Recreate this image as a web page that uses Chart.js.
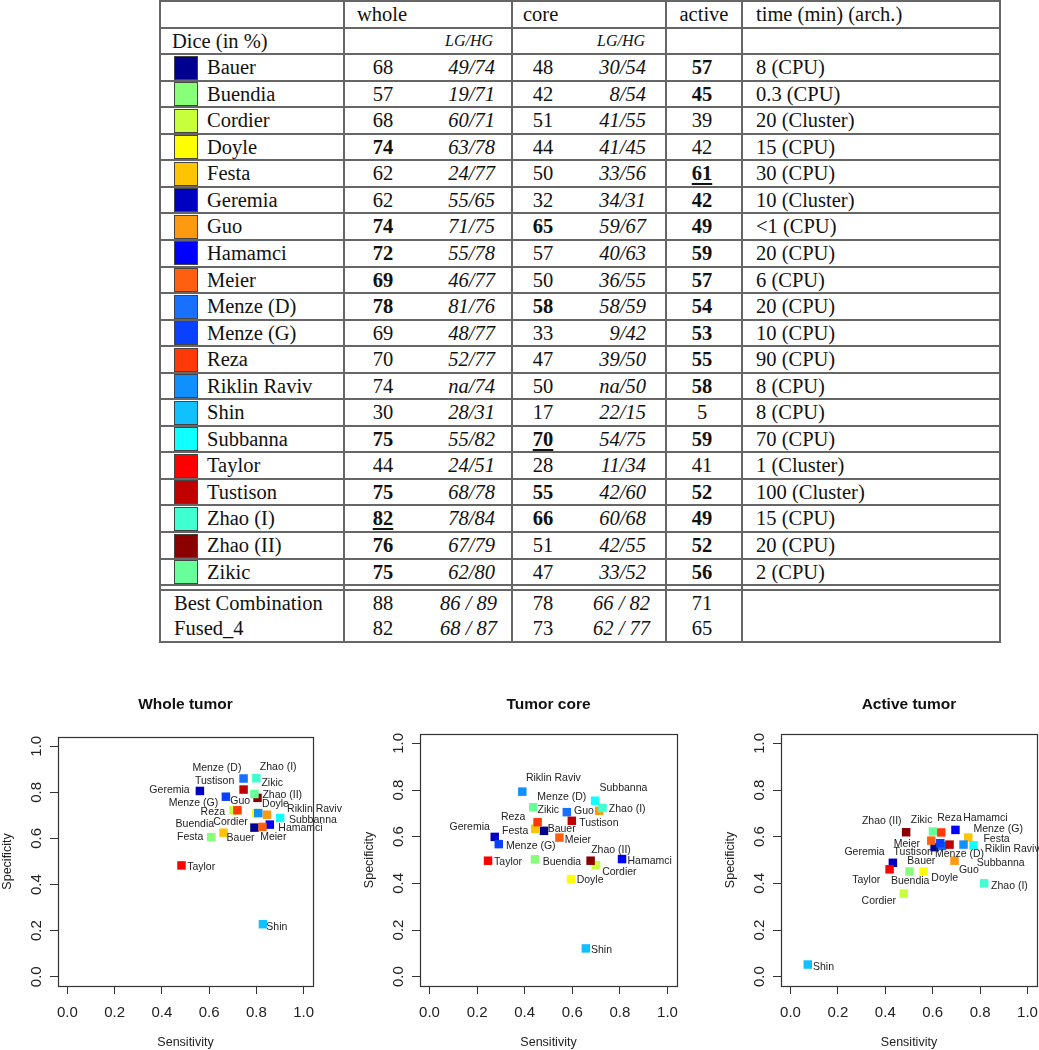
<!DOCTYPE html>
<html><head><meta charset="utf-8">
<script src="https://cdn.jsdelivr.net/npm/chart.js@4/dist/chart.umd.min.js"></script>
<style>
html,body{margin:0;padding:0;background:#fff;width:1039px;height:1050px;overflow:hidden;position:relative;}
#tbl{position:absolute;left:0;top:0;width:1039px;height:660px;font-family:"Liberation Serif","Times New Roman",serif;font-size:20.5px;color:#111;}
.t{position:absolute;white-space:nowrap;}
.ln{position:absolute;background:#666;}
.sw{position:absolute;box-sizing:border-box;border:1px solid #444;}
canvas{position:absolute;}
</style></head><body>
<div id="tbl"></div>
<canvas id="c1"></canvas><canvas id="c2"></canvas><canvas id="c3"></canvas>
<script>
// ---------------- data ----------------
const teams = ['Bauer','Buendia','Cordier','Doyle','Festa','Geremia','Guo','Hamamci','Meier','Menze (D)','Menze (G)','Reza','Riklin Raviv','Shin','Subbanna','Taylor','Tustison','Zhao (I)','Zhao (II)','Zikic'];
const teamColors = ['#00008F','#88FF78','#C8FF3C','#FFFF00','#FFC400','#0000C0','#FF9A10','#0000FF','#FF6010','#1870FF','#0A40FF','#FF3A08','#1090FF','#10C0FF','#10FFFF','#FF0000','#C00000','#40FFD0','#8A0000','#66FF99'];

const wholeDice = [68,57,68,74,62,62,74,72,69,78,69,70,74,30,75,44,75,82,76,75];
const wholeLGHG = ['49/74','19/71','60/71','63/78','24/77','55/65','71/75','55/78','46/77','81/76','48/77','52/77','na/74','28/31','55/82','24/51','68/78','78/84','67/79','62/80'];
const wholeMark = [0,0,0,1,0,0,1,1,1,1,0,0,0,0,1,0,1,2,1,1];
const coreDice = [48,42,51,44,50,32,65,57,50,58,33,47,50,17,70,28,55,66,51,47];
const coreLGHG = ['30/54','8/54','41/55','41/45','33/56','34/31','59/67','40/63','36/55','58/59','9/42','39/50','na/50','22/15','54/75','11/34','42/60','60/68','42/55','33/52'];
const coreMark = [0,0,0,0,0,0,1,0,0,1,0,0,0,0,2,0,1,1,0,0];
const activeDice = [57,45,39,42,61,42,49,59,57,54,53,55,58,5,59,41,52,49,52,56];
const activeMark = [1,1,0,0,2,1,1,1,1,1,1,1,1,0,1,0,1,1,1,1];
const runtime = ['8 (CPU)','0.3 (CPU)','20 (Cluster)','15 (CPU)','30 (CPU)','10 (Cluster)','<1 (CPU)','20 (CPU)','6 (CPU)','20 (CPU)','10 (CPU)','90 (CPU)','8 (CPU)','8 (CPU)','70 (CPU)','1 (Cluster)','100 (Cluster)','15 (CPU)','20 (CPU)','2 (CPU)'];

const comboNames = ['Best Combination','Fused_4'];
const comboWhole = [88,82];
const comboWholeLGHG = ['86 / 89','68 / 87'];
const comboCore = [78,73];
const comboCoreLGHG = ['66 / 82','62 / 77'];
const comboActive = [71,65];

const headers = ['whole','core','active','time (min) (arch.)'];
const subHeader = 'Dice (in %)';
const lghgLabel = 'LG/HG';

const chartTitles = ['Whole tumor','Tumor core','Active tumor'];
const xTitle = 'Sensitivity';
const yTitle = 'Specificity';
const tickValues = [0, 0.2, 0.4, 0.6, 0.8, 1.0];

const wholeSens = [0.792,0.609,0.703,0.800,0.661,0.561,0.845,0.857,0.826,0.746,0.671,0.720,0.808,0.828,0.901,0.483,0.746,0.800,0.805,0.792];
const wholeSpec = [0.647,0.606,0.722,0.710,0.625,0.806,0.703,0.660,0.650,0.860,0.781,0.722,0.710,0.228,0.689,0.483,0.812,0.861,0.776,0.793];
const coreSens = [0.481,0.443,0.700,0.595,0.444,0.274,0.713,0.809,0.546,0.577,0.291,0.454,0.390,0.657,0.696,0.246,0.598,0.727,0.677,0.436];
const coreSpec = [0.625,0.503,0.478,0.418,0.634,0.599,0.711,0.504,0.596,0.705,0.568,0.662,0.793,0.121,0.754,0.497,0.668,0.723,0.497,0.726];
const activeSens = [0.608,0.502,0.478,0.561,0.750,0.432,0.692,0.696,0.594,0.640,0.632,0.636,0.730,0.073,0.772,0.418,0.671,0.817,0.488,0.601];
const activeSpec = [0.555,0.451,0.356,0.451,0.596,0.488,0.497,0.629,0.583,0.560,0.572,0.618,0.566,0.052,0.563,0.460,0.566,0.400,0.619,0.622];

// ---------------- label placement (pixel offsets from point) ----------------
const labelOffsets = {
  whole: [[-13.9,10.4],[-16.4,-13],[-2.9,11.4],[19.2,-9.1],[-33.3,4.7],[-30.4,-1.3],[-26.7,-14],[30.7,3.4],[10.8,10.1],[-26.7,-10.6],[-32.4,6.2],[-24.6,1.4],[56.3,-4.4],[13.9,2.4],[32.7,2.5],[19.7,1.7],[-29,-8.9],[21.9,-11],[24.7,-3.2],[17.8,-11]],
  core: [[17.7,-2],[27,3],[23.3,6.7],[19,1],[-20,2.7],[-25,-10],[-15.3,0],[27.6,1.7],[18.4,2.6],[-5,-14.6],[32,2.4],[-24.4,-5.3],[31,-13.3],[15.6,2],[28.3,-12.3],[20,1.6],[27,2.3],[24.7,0.7],[20.4,-10.7],[15,3]],
  active: [[-13.3,14.4],[0.7,9.7],[-25,7.7],[21.3,7],[28.3,1.3],[-28.3,-10.4],[14.3,9.6],[30,-11.7],[-24.4,3.3],[17.3,8.2],[57.9,-14],[8.3,-14.4],[48.7,4.6],[15.7,2.7],[27.3,18],[-23.3,10.7],[-36.3,8],[25.3,2.4],[-24.4,-11.3],[-11.3,-11.7]]
};

// ---------------- table ----------------
const T = document.getElementById('tbl');
const RH = 26.55;
const rowTop = k => 1 + k * RH;
const X = {left:160, whole:344, core:512, active:666, time:742, right:1000};
function txt(s, x, top, h, align, style) {
  const d = document.createElement('div');
  d.className = 't';
  d.textContent = s;
  d.style.top = top + 'px';
  d.style.height = h + 'px';
  d.style.lineHeight = h + 'px';
  if (align === 'center') { d.style.left = (x - 100) + 'px'; d.style.width = '200px'; d.style.textAlign = 'center'; }
  else if (align === 'right') { d.style.left = (x - 200) + 'px'; d.style.width = '200px'; d.style.textAlign = 'right'; }
  else { d.style.left = x + 'px'; }
  if (style) Object.assign(d.style, style);
  T.appendChild(d);
  return d;
}
function markStyle(m) {
  if (m === 2) return {fontWeight:'bold', textDecoration:'underline', textUnderlineOffset:'3px'};
  if (m === 1) return {fontWeight:'bold'};
  return null;
}
function line(x1, y1, x2, y2) {
  const d = document.createElement('div');
  d.className = 'ln';
  if (y1 === y2) { d.style.left = x1 + 'px'; d.style.top = (y1 - 1) + 'px'; d.style.width = (x2 - x1) + 'px'; d.style.height = '2px'; }
  else { d.style.left = (x1 - 1) + 'px'; d.style.top = y1 + 'px'; d.style.width = '2px'; d.style.height = (y2 - y1) + 'px'; }
  T.appendChild(d);
}
// header
txt(headers[0], 357, rowTop(0), RH, 'left');
txt(headers[1], 523, rowTop(0), RH, 'left');
txt(headers[2], 704, rowTop(0), RH, 'center');
txt(headers[3], 756, rowTop(0), RH, 'left');
txt(subHeader, 172, rowTop(1), RH, 'left');
txt(lghgLabel, 493, rowTop(1), RH, 'right', {fontStyle:'italic', fontSize:'16px'});
txt(lghgLabel, 645, rowTop(1), RH, 'right', {fontStyle:'italic', fontSize:'16px'});
// rows
teams.forEach((name, i) => {
  const top = rowTop(i + 2);
  const sw = document.createElement('div');
  sw.className = 'sw';
  sw.style.left = '174px'; sw.style.top = (top + 1.5) + 'px';
  sw.style.width = '24px'; sw.style.height = '24px';
  sw.style.background = teamColors[i];
  T.appendChild(sw);
  txt(name, 207, top, RH, 'left');
  txt(String(wholeDice[i]), 383, top, RH, 'center', markStyle(wholeMark[i]));
  txt(wholeLGHG[i], 495, top, RH, 'right', {fontStyle:'italic'});
  txt(String(coreDice[i]), 543, top, RH, 'center', markStyle(coreMark[i]));
  txt(coreLGHG[i], 646, top, RH, 'right', {fontStyle:'italic'});
  txt(String(activeDice[i]), 702, top, RH, 'center', markStyle(activeMark[i]));
  txt(runtime[i], 756, top, RH, 'left');
});
const comboTop = [589.5, 614.5];
comboNames.forEach((name, i) => {
  const top = comboTop[i];
  txt(name, 174, top, 26, 'left');
  txt(String(comboWhole[i]), 383, top, 26, 'center');
  txt(comboWholeLGHG[i], 497, top, 26, 'right', {fontStyle:'italic'});
  txt(String(comboCore[i]), 543, top, 26, 'center');
  txt(comboCoreLGHG[i], 650, top, 26, 'right', {fontStyle:'italic'});
  txt(String(comboActive[i]), 702, top, 26, 'center');
});
// lines
for (let k = 0; k <= 22; k++) line(X.left, rowTop(k), X.right, rowTop(k));
line(X.left, 589.5, X.right, 589.5);
line(X.left, 641.5, X.right, 641.5);
[X.left, X.whole, X.core, X.active, X.time, X.right].forEach(x => line(x, 0, x, 642.5));

// ---------------- charts ----------------
const FONT = '"Liberation Sans", Arial, Helvetica, sans-serif';
Chart.defaults.font.family = FONT;

const boxPlugin = {
  id: 'plotBox',
  afterDraw(c) {
    const {left, top, right, bottom} = c.chartArea;
    const ctx = c.ctx;
    ctx.save();
    ctx.strokeStyle = '#333';
    ctx.lineWidth = 1.2;
    ctx.strokeRect(Math.round(left) + 0.5, Math.round(top) + 0.5, Math.round(right - left), Math.round(bottom - top));
    ctx.restore();
  }
};
const labelPlugin = {
  id: 'ptLabels',
  afterDatasetsDraw(c, args, opts) {
    const ctx = c.ctx;
    const meta = c.getDatasetMeta(0);
    ctx.save();
    ctx.font = '10.5px ' + FONT;
    ctx.fillStyle = '#222';
    ctx.textAlign = 'center';
    ctx.textBaseline = 'middle';
    meta.data.forEach((pt, i) => {
      const o = opts.offsets[i];
      ctx.fillText(teams[i], pt.x + o[0], pt.y + o[1]);
    });
    ctx.restore();
  }
};

function makeChart(id, geo, sens, spec, offsets, titleText) {
  const cv = document.getElementById(id);
  cv.width = geo.w; cv.height = geo.h;
  cv.style.left = geo.x + 'px'; cv.style.top = geo.y + 'px';
  cv.style.width = geo.w + 'px'; cv.style.height = geo.h + 'px';
  const a = geo.area;
  const tSize = 15.5, tLH = tSize * 1.2;
  const tPadTop = 15 - tLH / 2;
  const axisFont = {family: FONT, size: 15};
  const titleFont = {family: FONT, size: 12.5};
  return new Chart(cv, {
    type: 'scatter',
    data: {datasets: [{
      data: sens.map((v, i) => ({x: v, y: spec[i]})),
      backgroundColor: teamColors,
      borderWidth: 0,
      pointStyle: 'rect',
      pointRadius: 6,
      pointHoverRadius: 6,
      clip: false
    }]},
    options: {
      responsive: false,
      animation: false,
      events: [],
      layout: {padding: {left: 0, top: 0, bottom: 0, right: geo.w - a.r}},
      plugins: {
        legend: {display: false},
        tooltip: {enabled: false},
        title: {display: true, text: titleText, fullSize: false, color: '#111',
          font: {family: FONT, size: tSize, weight: 'bold'},
          padding: {top: tPadTop, bottom: a.t - tPadTop - tLH}},
        ptLabels: {offsets: offsets}
      },
      scales: {
        x: {
          type: 'linear', min: -0.04, max: 1.04,
          afterBuildTicks: s => { s.ticks = tickValues.map(v => ({value: v})); },
          afterFit: s => { s.height = geo.h - a.b; },
          grid: {drawOnChartArea: false, drawTicks: true, tickLength: 8, color: '#333', lineWidth: 1},
          border: {display: false},
          ticks: {font: axisFont, color: '#222', padding: 9.5, autoSkip: false, maxRotation: 0, minRotation: 0,
            callback: v => Number(v).toFixed(1)},
          title: {display: true, text: xTitle, font: titleFont, color: '#222', padding: {top: 0, bottom: 0}}
        },
        y: {
          type: 'linear', min: -0.04, max: 1.04,
          afterBuildTicks: s => { s.ticks = tickValues.map(v => ({value: v})); },
          afterFit: s => { s.width = a.l; },
          grid: {drawOnChartArea: false, drawTicks: true, tickLength: 8, color: '#333', lineWidth: 1},
          border: {display: false},
          ticks: {font: axisFont, color: '#222', padding: 2.6, minRotation: 90, maxRotation: 90, crossAlign: 'center',
            callback: v => Number(v).toFixed(1)},
          title: {display: true, text: yTitle, font: titleFont, color: '#222', padding: {top: 0, bottom: 0}}
        }
      }
    },
    plugins: [boxPlugin, labelPlugin]
  });
}

makeChart('c1', {x: 0, y: 690, w: 345, h: 360, area: {l: 58, r: 313, t: 47, b: 296}}, wholeSens, wholeSpec, labelOffsets.whole, chartTitles[0]);
makeChart('c2', {x: 362, y: 690, w: 345, h: 360, area: {l: 58, r: 315, t: 44, b: 296}}, coreSens, coreSpec, labelOffsets.core, chartTitles[1]);
makeChart('c3', {x: 723, y: 690, w: 330, h: 360, area: {l: 58, r: 314, t: 44, b: 296}}, activeSens, activeSpec, labelOffsets.active, chartTitles[2]);
</script>
</body></html>
